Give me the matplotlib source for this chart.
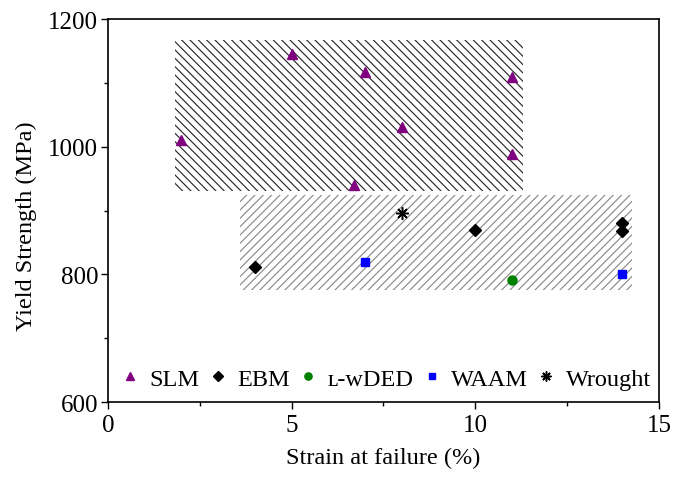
import matplotlib
matplotlib.use("Agg")
import matplotlib.pyplot as plt
from matplotlib.patches import Rectangle

plt.rcParams['font.family'] = ['Liberation Serif', 'DejaVu Serif']
plt.rcParams['hatch.linewidth'] = 0.85

# Data
slm_x = [2.0, 5.0, 7.0, 11.0, 8.0, 11.0, 6.7]
slm_y = [1010, 1146, 1117, 1109, 1031, 988, 940]
ebm_x = [4.0, 10.0, 14.0, 14.0]
ebm_y = [812, 869, 880, 868]
ded_x = [11.0]
ded_y = [791]
waam_x = [7.0, 14.0]
waam_y = [820, 801]
wrought_x = [8.0]
wrought_y = [896]

series_labels = ['SLM', 'EBM', '\u029f-\u1d21DED', 'WAAM', 'Wrought']

# Shaded ranges: (x0, x1, y0, y1)
upper_region = [1.82, 11.3, 930, 1167]
lower_region = [3.6, 14.28, 776, 924]

xticks = [0, 5, 10, 15]
yticks = [600, 800, 1000, 1200]

fig = plt.figure(figsize=(6.73, 4.81), dpi=100)
ax = fig.add_axes([0.1605, 0.162, 0.8185, 0.796])

def add_region(reg, hatch, color):
    x0, x1, y0, y1 = reg
    ax.add_patch(Rectangle((x0, y0), x1 - x0, y1 - y0, fill=False,
                           hatch=hatch, edgecolor=color, linewidth=0, zorder=1))

add_region(upper_region, '\\\\\\\\', '#2a2a2a')
add_region(lower_region, '////', '#8a8a8a')

ax.plot(slm_x, slm_y, ls='none', marker='^', color='#800080', ms=7,
        label=series_labels[0], zorder=3)
ax.plot(ebm_x, ebm_y, ls='none', marker='D', color='black', ms=6,
        label=series_labels[1], zorder=3)
ax.plot(ded_x, ded_y, ls='none', marker='o', color='#008000', ms=6.5,
        label=series_labels[2], zorder=3)
ax.plot(waam_x, waam_y, ls='none', marker='s', color='#0000ff', ms=6,
        label=series_labels[3], zorder=3)
ax.plot(wrought_x, wrought_y, ls='none', marker=(8, 2, 0), color='black', ms=9, mew=1.1,
        label=series_labels[4], zorder=3)

ax.set_xlim(0, 15)
ax.set_ylim(600, 1200)
ax.set_xticks(xticks)
ax.set_yticks(yticks)
ax.set_xticks([2.5, 7.5, 12.5], minor=True)
ax.set_yticks([700, 900, 1100], minor=True)
ax.tick_params(axis='both', which='major', direction='out', length=5, width=1,
               labelsize=18, top=False, right=False)
ax.tick_params(axis='y', which='major', pad=2)
ax.tick_params(axis='both', which='minor', direction='out', length=3, width=1,
               top=False, right=False)
for s in ax.spines.values():
    s.set_linewidth(1.2)

ax.set_xlabel('Strain at failure (%)', fontsize=17.5, labelpad=8)
ax.set_ylabel('Yield Strength (MPa)', fontsize=17.5)
ax.yaxis.set_label_coords(-0.129, 0.462)

ax.legend(loc='lower center', ncol=5, frameon=False, fontsize=17.5,
          handlelength=0.6, handletextpad=0.5, columnspacing=0.45,
          markerscale=0.8, borderaxespad=0.1, bbox_to_anchor=(0.506, 0.0))

fig.savefig('out.png', dpi=100)
